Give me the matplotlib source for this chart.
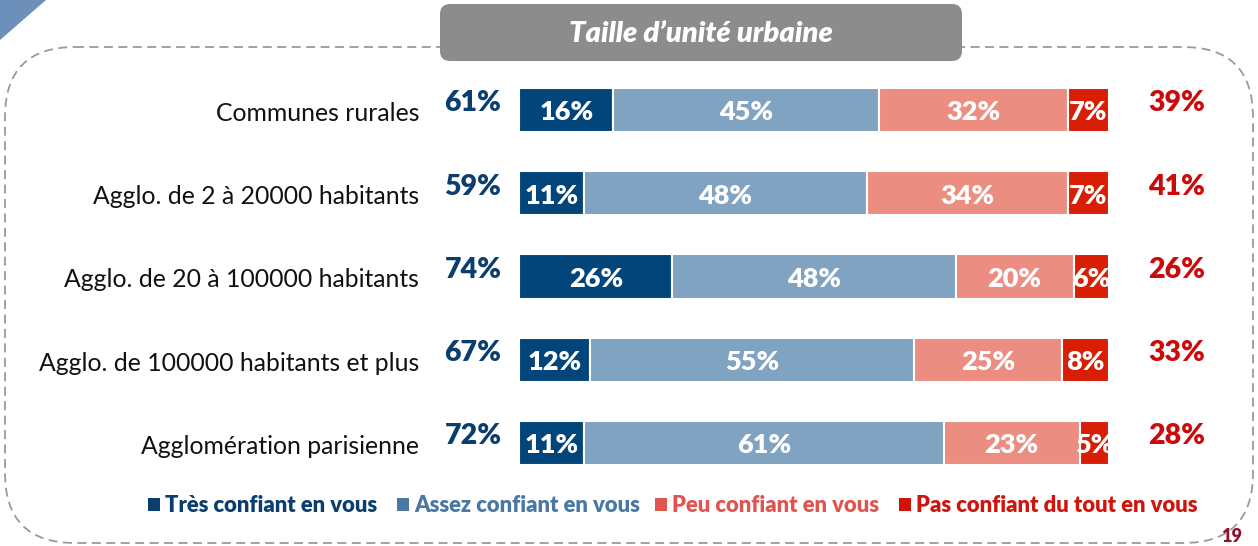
import numpy as np
import matplotlib
matplotlib.use('Agg')
import matplotlib.pyplot as plt
from matplotlib.patches import FancyBboxPatch, Polygon

plt.rcParams['font.family'] = ['Lato', 'DejaVu Sans']

categories = ['Communes rurales', 'Agglo. de 2 à 20000 habitants',
              'Agglo. de 20 à 100000 habitants', 'Agglo. de 100000 habitants et plus',
              'Agglomération parisienne']
tres = [16, 11, 26, 12, 11]
assez = [45, 48, 48, 55, 61]
peu = [32, 34, 20, 25, 23]
pas = [7, 7, 6, 8, 5]
total_conf = [61, 59, 74, 67, 72]
total_pas = [39, 41, 26, 33, 28]
legend_labels = ['Très confiant en vous', 'Assez confiant en vous',
                 'Peu confiant en vous', 'Pas confiant du tout en vous']

bar_colors = ['#02457a', '#7fa3c1', '#eb8e81', '#d81f05']
legend_colors = ['#0b3d6f', '#4a78a4', '#e05550', '#d0140c']

W, H = 1258, 546
fig = plt.figure(figsize=(W / 100, H / 100), dpi=100)

# background / decoration layer in pixel coordinates
bg = fig.add_axes([0, 0, 1, 1])
bg.set_xlim(0, W)
bg.set_ylim(H, 0)
bg.axis('off')

frame = FancyBboxPatch((5, 47), 1248, 496, boxstyle='round,pad=0,rounding_size=70',
                       fill=False, edgecolor='#9a9a9a', linewidth=1.3,
                       linestyle=(0, (5, 3)))
bg.add_patch(frame)
title_box = FancyBboxPatch((440, 4), 522, 57, boxstyle='round,pad=0,rounding_size=10',
                           facecolor='#8c8c8c', edgecolor='none', zorder=3)
bg.add_patch(title_box)
bg.text(701, 34, 'Taille d\u2019unité urbaine', color='white', fontsize=21,
        fontweight='heavy', style='italic', ha='center', va='center', zorder=4)
bg.add_patch(Polygon([[0, 0], [46, 0], [0, 40]], closed=True,
                     facecolor='#6d90bb', edgecolor='none'))
bg.text(1232, 545, '19', color='#8b1030', fontsize=13, fontweight='heavy',
        ha='center', va='bottom')

# legend
leg_sq_x = [148, 397, 655, 899]
for i in range(4):
    bg.add_patch(plt.Rectangle((leg_sq_x[i], 498), 12, 13, facecolor=legend_colors[i],
                               edgecolor='none'))
    bg.text(leg_sq_x[i] + 17, 505, legend_labels[i], color=legend_colors[i],
            fontsize=15.8, fontweight='heavy', ha='left', va='center')

# bar chart
ax = fig.add_axes([519 / W, 1 - 484.6 / H, 590 / W, 416.25 / H])
ax.patch.set_alpha(0)
y = np.arange(len(categories))
left = np.zeros(len(categories))
for vals, col in zip([tres, assez, peu, pas], bar_colors):
    vals = np.array(vals)
    ax.barh(y, vals, left=left, height=0.53, color=col, edgecolor='white', linewidth=1.5)
    for yi, l, v in zip(y, left, vals):
        ax.text(l + v / 2, yi + 0.03, f'{v}%', color='white', fontsize=19.5,
                fontweight='heavy', ha='center', va='center')
    left += vals

ax.set_xlim(0, 100)
ax.set_ylim(len(categories) - 0.5, -0.5)
ax.axis('off')

for yi, cat, tc, tp in zip(y, categories, total_conf, total_pas):
    ax.text(-16.9, yi + 0.04, cat, fontsize=17.8, ha='right', va='center', color='#111111')
    ax.text(-7.8, yi - 0.08, f'{tc}%', fontsize=20.5, fontweight='heavy', ha='center',
            va='center', color='#0b3d6f')
    ax.text(111.5, yi - 0.08, f'{tp}%', fontsize=20.5, fontweight='heavy', ha='center',
            va='center', color='#cc0a0a')

fig.savefig('out.png', dpi=100)
plt.close()
